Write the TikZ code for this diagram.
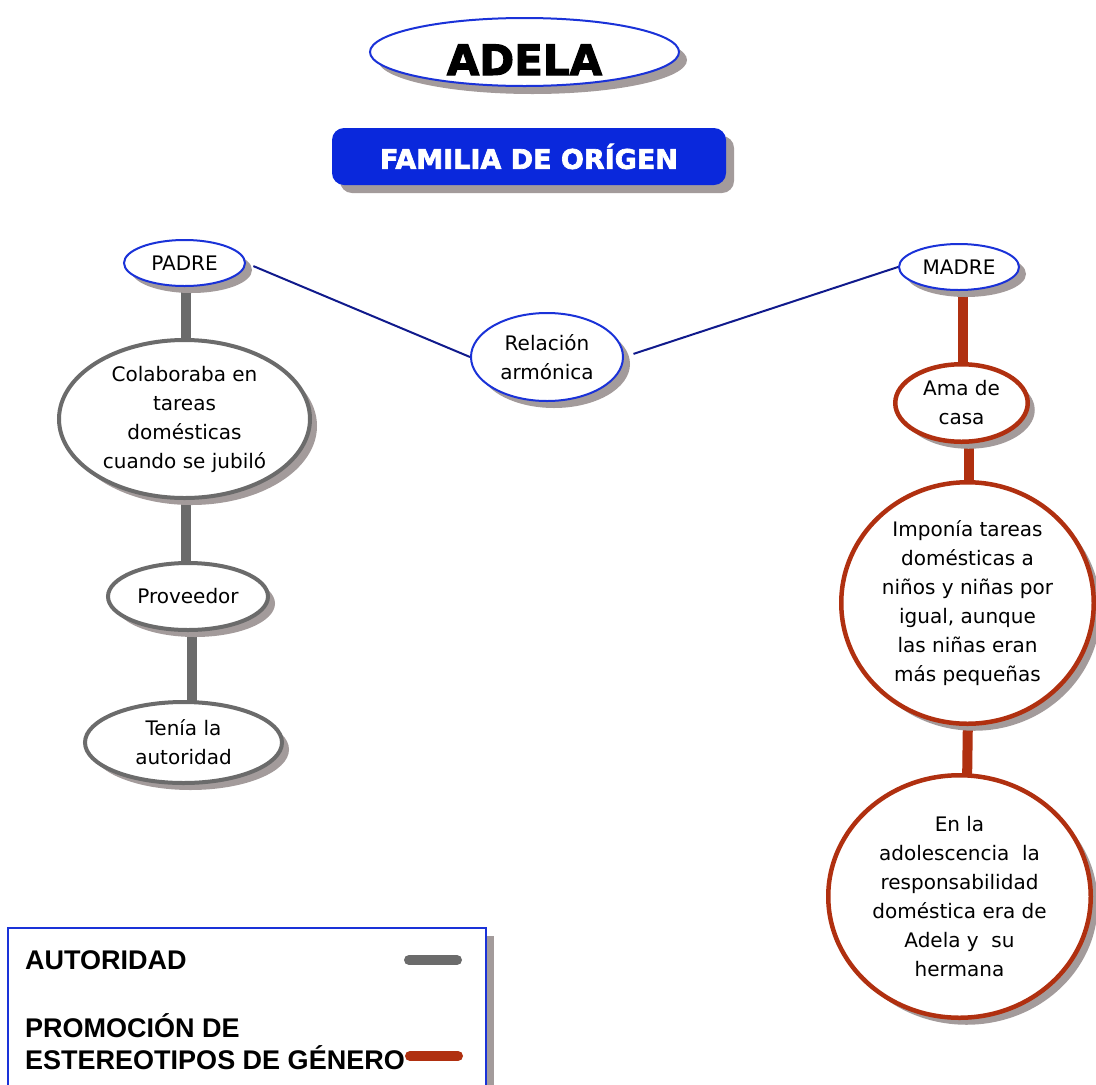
\documentclass[tikz,border=0pt]{standalone}
\usepackage{fontspec}
\setmainfont{DejaVu Sans}
\newfontfamily\legendfont{Liberation Sans}
\newfontfamily\heavyfont{DejaVu Sans Bold}[FakeBold=2.5]
\usetikzlibrary{shapes.geometric,shadows,backgrounds}
\definecolor{nodeblue}{HTML}{1A32D8}
\definecolor{boxblue}{HTML}{0A28DC}
\definecolor{navyline}{HTML}{101A8C}
\definecolor{authgray}{HTML}{6B6B6B}
\definecolor{genderred}{HTML}{B03010}
\definecolor{shadowgray}{HTML}{A39B9B}
\begin{document}
\begin{tikzpicture}[x=1pt,y=-1pt,
  shadeseven/.style={drop shadow={shadow xshift=7pt,shadow yshift=-7pt,fill=shadowgray,opacity=1}},
  shadeeight/.style={drop shadow={shadow xshift=8pt,shadow yshift=-8pt,fill=shadowgray,opacity=1}},
  bubble/.style={ellipse,inner sep=0pt,fill=white,align=center,
    font=\fontsize{20}{29}\selectfont,shadeseven},
  bluebubble/.style={bubble,draw=nodeblue,line width=2pt},
  graybubble/.style={bubble,draw=authgray,line width=4pt},
  redbubble/.style={bubble,draw=genderred,line width=4.5pt},
  authline/.style={draw=authgray,line width=10pt},
  genderline/.style={draw=genderred,line width=10pt},
  relline/.style={draw=navyline,line width=2pt},
  legendtext/.style={anchor=base west,inner sep=0pt,
    font=\legendfont\bfseries\fontsize{27}{33}\selectfont}]
\useasboundingbox (0,0) rectangle (1096,1085);
\clip (0,0) rectangle (1096,1085);

% title and heading
\node[ellipse,draw=nodeblue,line width=2pt,fill=white,inner sep=0pt,
  minimum width=309pt,minimum height=68pt,shadeeight,text height=46pt,text depth=0pt,
  font=\heavyfont\fontsize{42}{42}\selectfont] (adela) at (524.5,52) {ADELA};
\node[rectangle,rounded corners=12pt,fill=boxblue,text=white,inner sep=0pt,
  minimum width=394pt,minimum height=57pt,shadeeight,
  font=\heavyfont\fontsize{27}{27}\selectfont] (familia) at (529,156.5) {FAMILIA DE ORÍGEN};

% parents
\node[bluebubble,minimum width=121pt,minimum height=46pt] (padre) at (184.5,263) {PADRE};
\node[bluebubble,minimum width=120pt,minimum height=46pt] (madre) at (959,267) {MADRE};
\node[bluebubble,minimum width=152pt,minimum height=88pt] (relacion) at (547,357) {Relación\\armónica};

% father's branch
\node[graybubble,minimum width=251pt,minimum height=158pt] (colab) at (184.5,419)
  {Colaboraba en\\tareas\\domésticas\\cuando se jubiló};
\node[graybubble,minimum width=160pt,minimum height=67pt] (proveedor) at (188,596.5) {Proveedor};
\node[graybubble,minimum width=197pt,minimum height=81pt] (tenia) at (183.5,742.5) {Tenía la\\autoridad};

% mother's branch
\node[redbubble,minimum width=132.5pt,minimum height=77.5pt] (ama) at (961.5,403) {Ama de\\casa};
\node[redbubble,minimum width=252.5pt,minimum height=241.5pt] (impon) at (967.5,603)
  {Imponía tareas\\domésticas a\\niños y niñas por\\igual, aunque\\las niñas eran\\más pequeñas};
\node[redbubble,minimum width=262.5pt,minimum height=242.5pt] (enla) at (959.5,896.5)
  {En la\\adolescencia\ \ la\\responsabilidad\\doméstica era de\\Adela y\ \ su\\hermana};

% connectors
\draw[relline,shorten <=8pt] (padre.east) -- (relacion.west);
\draw[relline,shorten <=10pt] (relacion.east) -- (madre.west);
\begin{scope}[on background layer]
  \draw[authline] ([xshift=1.5pt]padre.center) -- ([xshift=1.5pt]padre.center |- colab.center);
  \draw[authline] ([xshift=1.5pt]colab.center) -- ([xshift=1.5pt]colab.center |- proveedor.center);
  \draw[authline] ([xshift=4pt]proveedor.center) -- ([xshift=4pt]proveedor.center |- tenia.center);
  \draw[genderline] ([xshift=4pt]madre.center) -- ([xshift=4pt]madre.center |- ama.center);
  \draw[genderline] ([xshift=7.5pt]ama.center) -- ([xshift=7.5pt]ama.center |- impon.center);
  \draw[genderline] ([xshift=2pt]impon.center) -- ([xshift=6pt]enla.center);
\end{scope}

% legend
\path[draw=nodeblue,line width=2pt,fill=white,shadeeight] (8,928) rectangle (486,1100);
\node[legendtext] (legauth) at (25,969) {AUTORIDAD};
\node[legendtext] (leggenA) at (25,1037) {PROMOCIÓN DE};
\node[legendtext] (leggenB) at (25,1069) {ESTEREOTIPOS DE GÉNERO};
\draw[authline,line cap=round] (409,960) -- (457,960);
\draw[genderline,line cap=round] (410,1056) -- (458,1056);
\end{tikzpicture}
\end{document}
